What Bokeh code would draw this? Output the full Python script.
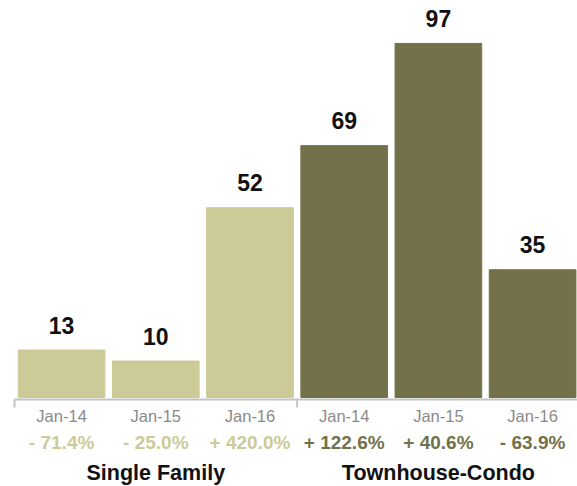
from bokeh.plotting import figure
from bokeh.models import Range1d, ColumnDataSource
from bokeh.core.properties import value
from bokeh.embed import file_html
from bokeh.resources import INLINE

# ---- data ----
groups = ["Single Family", "Townhouse-Condo"]
dates = ["Jan-14", "Jan-15", "Jan-16", "Jan-14", "Jan-15", "Jan-16"]
counts = [13, 10, 52, 69, 97, 35]
changes = ["- 71.4%", "- 25.0%", "+ 420.0%", "+ 122.6%", "+ 40.6%", "- 63.9%"]
bar_group = [0, 0, 0, 1, 1, 1]

light = "#cccb97"
dark = "#727149"
colors = [light if g == 0 else dark for g in bar_group]

W, H = 577, 486
base_px = 397.0          # pixel row of value 0
px_per_unit = 3.65       # vertical scale
slot_px = 94.2           # horizontal slot size
left_px = 14.0           # pixel of first group boundary

x = list(range(len(counts)))
src = ColumnDataSource(dict(x=x, top=counts, color=colors, date=dates,
                            change=changes, label=[str(c) for c in counts]))

p = figure(width=W, height=H, output_backend="svg", toolbar_location=None,
           min_border=0, min_border_left=0, min_border_right=0,
           min_border_top=0, min_border_bottom=0)
p.x_range = Range1d(-0.5 - left_px / slot_px, -0.5 + (W - left_px) / slot_px)
p.y_range = Range1d(-(H - base_px) / px_per_unit, base_px / px_per_unit)
p.xaxis.visible = False
p.yaxis.visible = False
p.grid.visible = False
p.outline_line_color = None
p.background_fill_color = "white"
p.border_fill_color = "white"

p.vbar(x="x", top="top", bottom=0, width=0.92, color="color", source=src)

# value labels
p.text(x="x", y="top", text="label", source=src, text_align="center",
       text_baseline="middle", y_offset=-25, text_font=value("Liberation Sans"),
       text_font_size="23px", text_font_style="bold", text_color="#111111")

# date labels
p.text(x="x", y=0, text="date", source=src, text_align="center",
       text_baseline="middle", y_offset=18, text_font=value("Liberation Sans"),
       text_font_size="16.5px", text_color="#8a8a8a")

# change labels
p.text(x="x", y=0, text="change", source=src, text_align="center",
       text_baseline="middle", y_offset=45, text_font=value("Liberation Sans"),
       text_font_size="19px", text_font_style="bold", text_color="color")

# group labels, centred under each group of three bars
n_per = 3
gx = [sum(x[i * n_per:(i + 1) * n_per]) / n_per for i in range(len(groups))]
gsrc = ColumnDataSource(dict(x=gx, y=[0] * len(groups), text=groups))
p.text(x="x", y="y", text="text", source=gsrc, text_align="center",
       text_baseline="middle", y_offset=75, text_font=value("Liberation Sans"),
       text_font_size="21.5px", text_font_style="bold", text_color="#111111")

# axis line and group ticks
axis_y = -2.0 / px_per_unit
tick_y = -10.0 / px_per_unit
bounds = [-0.5, 2.5, 5.5]
p.segment(x0=[bounds[0]], y0=[axis_y], x1=[bounds[-1]], y1=[axis_y],
          line_color="#c4c4c4", line_width=2)
p.segment(x0=bounds, y0=[axis_y] * 3, x1=bounds, y1=[tick_y] * 3,
          line_color="#c4c4c4", line_width=2)

open("out.html", "w").write(file_html(p, INLINE))
